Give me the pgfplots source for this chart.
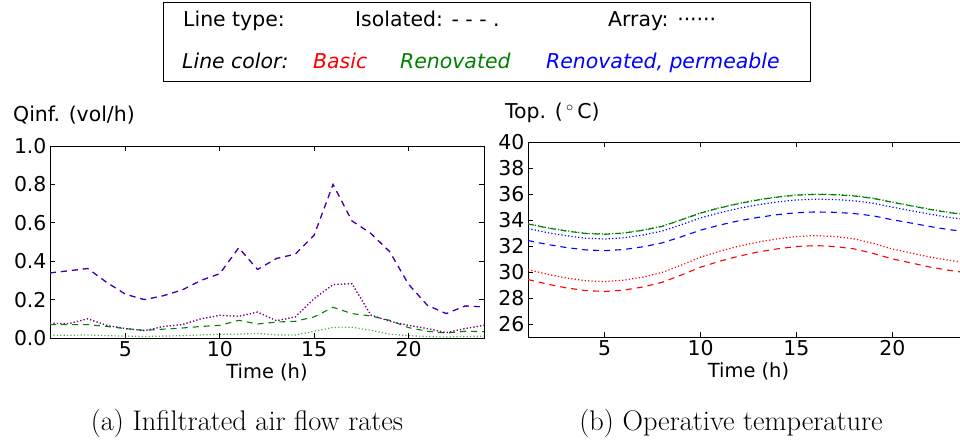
\documentclass[border=0pt]{standalone}
\usepackage{fontspec}
\usepackage{pgfplots}
\pgfplotsset{compat=1.18}
\newfontfamily\dv{DejaVu Sans}
\definecolor{mred}{rgb}{1,0,0}
\definecolor{mgreen}{rgb}{0,0.5,0}
\definecolor{mblue}{rgb}{0,0,1}

\pgfplotsset{
  mpl/.style={
    scale only axis, xmin=1, xmax=24, xtick={5,10,15,20},
    tick align=inside, tick pos=both, major tick length=5bp,
    axis line style={line width=0.8bp},
    every tick/.style={black, line width=0.8bp},
    tick label style={font=\dv\fontsize{20.5}{24}\selectfont},
    /pgf/number format/assume math mode=true,
    xlabel style={font=\dv\fontsize{19.5}{23}\selectfont},
  },
  iso/.style={dash pattern=on 6bp off 5bp, line width=1.1bp},
  arr/.style={dash pattern=on 1.2bp off 2.2bp, line width=1.2bp},
}

\begin{document}
\begin{tikzpicture}
\useasboundingbox (0bp,0bp) rectangle (960bp,441bp);

% legend box
\draw[line width=1bp] (163bp,359bp) rectangle (810bp,438bp);
\begin{scope}[every node/.style={anchor=base west, inner sep=0pt, font=\dv\fontsize{20.5}{24}\selectfont}]
\node at (183bp,414bp) {Line type:};
\node at (355bp,414bp) {Isolated: - - - .};
\node at (608bp,414bp) {Array: ······};
\node at (182bp,372bp) {\itshape Line color:};
\node[text=mred] at (313bp,372bp) {\itshape Basic};
\node[text=mgreen] at (400bp,372bp) {\itshape Renovated};
\node[text=mblue] at (546bp,372bp) {\itshape Renovated, permeable};
\node at (13bp,319bp) {Qinf. (vol/h)};
\node at (505bp,322bp) {Top. (\,$^\circ$\,C)};
\end{scope}

% (a) infiltration
\begin{axis}[mpl, at={(50bp,103bp)}, anchor=south west, width=434bp, height=192bp,
  ymin=0, ymax=1, ytick={0,0.2,...,1},
  yticklabel style={/pgf/number format/.cd, fixed, fixed zerofill, precision=1},
  xlabel={Time (h)}]
% basic, isolated
\addplot[mred, iso] coordinates {(1,0.339)(2,0.35)(3,0.362)(4,0.29)(5,0.228)(6,0.20)(7,0.22)(8,0.25)(9,0.30)(10,0.335)(11,0.47)(12,0.357)(13,0.414)(14,0.437)(15,0.536)(16,0.80)(17,0.61)(18,0.545)(19,0.45)(20,0.28)(21,0.17)(22,0.127)(23,0.167)(24,0.162)};
% basic, array
\addplot[mred, arr] coordinates {(1,0.077)(2,0.075)(3,0.10)(4,0.066)(5,0.049)(6,0.038)(7,0.06)(8,0.07)(9,0.10)(10,0.118)(11,0.113)(12,0.135)(13,0.09)(14,0.11)(15,0.205)(16,0.278)(17,0.283)(18,0.12)(19,0.087)(20,0.066)(21,0.049)(22,0.028)(23,0.049)(24,0.066)};
% renovated, isolated
\addplot[mgreen, iso] coordinates {(1,0.07)(2,0.07)(3,0.07)(4,0.06)(5,0.049)(6,0.04)(7,0.046)(8,0.052)(9,0.06)(10,0.066)(11,0.092)(12,0.073)(13,0.083)(14,0.087)(15,0.11)(16,0.16)(17,0.127)(18,0.115)(19,0.092)(20,0.054)(21,0.035)(22,0.026)(23,0.035)(24,0.033)};
% renovated, array
\addplot[mgreen, arr, opacity=0.7] coordinates {(1,0.014)(2,0.014)(3,0.016)(4,0.012)(5,0.01)(6,0.008)(7,0.01)(8,0.012)(9,0.016)(10,0.02)(11,0.02)(12,0.024)(13,0.016)(14,0.016)(15,0.035)(16,0.055)(17,0.056)(18,0.04)(19,0.02)(20,0.012)(21,0.008)(22,0.005)(23,0.008)(24,0.01)};
% renovated permeable, isolated
\addplot[mblue, iso, opacity=0.85] coordinates {(1,0.339)(2,0.35)(3,0.362)(4,0.29)(5,0.228)(6,0.20)(7,0.22)(8,0.25)(9,0.30)(10,0.335)(11,0.47)(12,0.357)(13,0.414)(14,0.437)(15,0.536)(16,0.80)(17,0.61)(18,0.545)(19,0.45)(20,0.28)(21,0.17)(22,0.127)(23,0.167)(24,0.162)};
% renovated permeable, array
\addplot[mblue, arr, opacity=0.65] coordinates {(1,0.077)(2,0.075)(3,0.10)(4,0.066)(5,0.049)(6,0.038)(7,0.06)(8,0.07)(9,0.10)(10,0.118)(11,0.113)(12,0.135)(13,0.09)(14,0.11)(15,0.205)(16,0.278)(17,0.283)(18,0.12)(19,0.087)(20,0.066)(21,0.049)(22,0.028)(23,0.049)(24,0.066)};
\end{axis}

% (b) operative temperature
\begin{axis}[mpl, at={(528bp,104bp)}, anchor=south west, width=441bp, height=195bp,
  ymin=25, ymax=40, ytick={26,28,...,40},
  xlabel={Time (h)}]
\addplot[mred, iso] coordinates {(1,29.42)(2,29.07)(3,28.78)(4,28.57)(5,28.50)(6,28.61)(7,28.85)(8,29.21)(9,29.77)(10,30.37)(11,30.83)(12,31.22)(13,31.54)(14,31.78)(15,31.96)(16,32.03)(17,31.96)(18,31.78)(19,31.43)(20,31.01)(21,30.69)(22,30.37)(23,30.12)(24,29.91)};
\addplot[mred, arr] coordinates {(1,30.18)(2,29.83)(3,29.54)(4,29.33)(5,29.26)(6,29.37)(7,29.61)(8,29.97)(9,30.53)(10,31.14)(11,31.60)(12,31.99)(13,32.30)(14,32.55)(15,32.73)(16,32.80)(17,32.73)(18,32.55)(19,32.20)(20,31.77)(21,31.45)(22,31.14)(23,30.89)(24,30.68)};
\addplot[mblue, iso] coordinates {(1,32.42)(2,32.12)(3,31.88)(4,31.70)(5,31.64)(6,31.73)(7,31.94)(8,32.24)(9,32.71)(10,33.22)(11,33.61)(12,33.94)(13,34.20)(14,34.41)(15,34.56)(16,34.62)(17,34.59)(18,34.50)(19,34.32)(20,34.02)(21,33.76)(22,33.49)(23,33.25)(24,33.07)};
\addplot[mblue, arr] coordinates {(1,33.34)(2,33.03)(3,32.79)(4,32.60)(5,32.54)(6,32.63)(7,32.85)(8,33.15)(9,33.64)(10,34.16)(11,34.56)(12,34.90)(13,35.17)(14,35.39)(15,35.54)(16,35.60)(17,35.57)(18,35.48)(19,35.29)(20,34.99)(21,34.71)(22,34.44)(23,34.19)(24,34.01)};
\addplot[mgreen, iso] coordinates {(1,33.70)(2,33.39)(3,33.15)(4,32.96)(5,32.90)(6,32.99)(7,33.21)(8,33.51)(9,34.01)(10,34.53)(11,34.93)(12,35.26)(13,35.54)(14,35.76)(15,35.91)(16,35.97)(17,35.94)(18,35.85)(19,35.66)(20,35.36)(21,35.08)(22,34.80)(23,34.56)(24,34.37)};
\addplot[mgreen, arr] coordinates {(1,33.72)(2,33.41)(3,33.17)(4,32.98)(5,32.92)(6,33.01)(7,33.23)(8,33.53)(9,34.03)(10,34.55)(11,34.95)(12,35.28)(13,35.56)(14,35.78)(15,35.93)(16,35.99)(17,35.96)(18,35.87)(19,35.68)(20,35.38)(21,35.10)(22,34.82)(23,34.58)(24,34.39)};
\end{axis}

% captions
\node[anchor=base, inner sep=0pt, font=\fontsize{28.5}{34}\selectfont] at (247bp,11bp) {(a) Infiltrated air flow rates};
\node[anchor=base, inner sep=0pt, font=\fontsize{28.5}{34}\selectfont] at (731bp,11bp) {(b) Operative temperature};
\end{tikzpicture}
\end{document}
